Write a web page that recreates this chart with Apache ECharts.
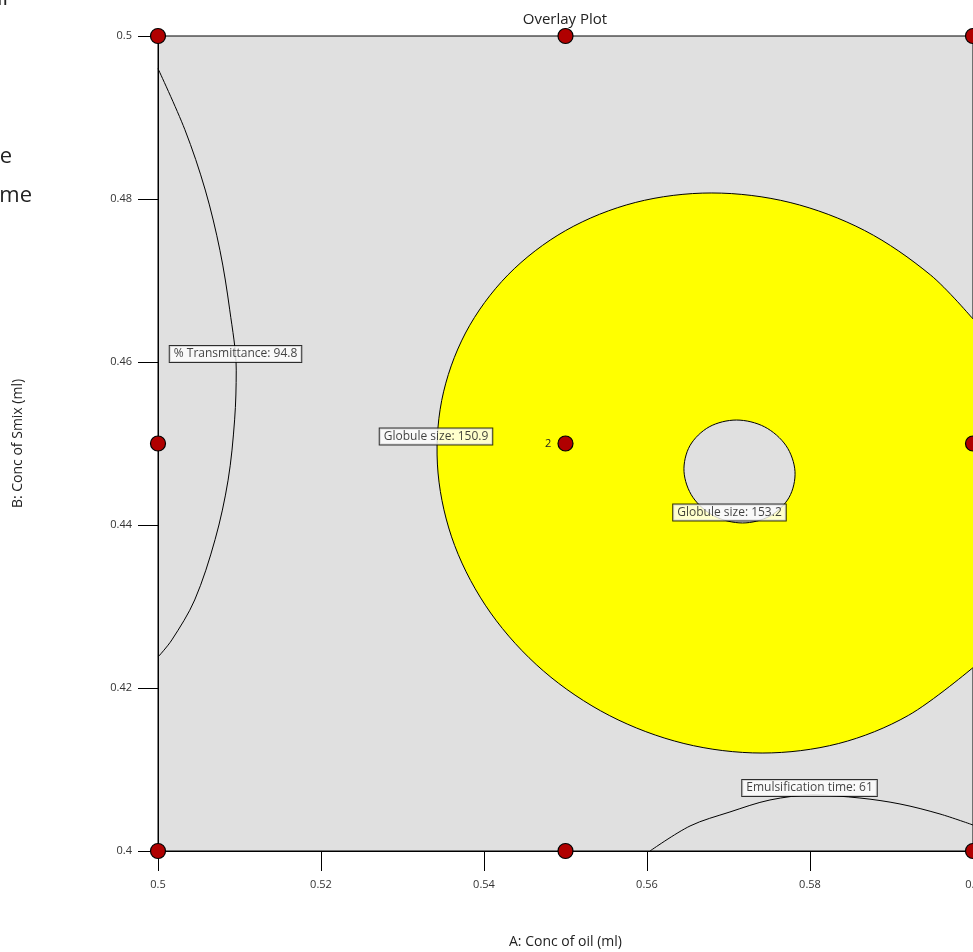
<!DOCTYPE html>
<html>
<head>
<meta charset="utf-8">
<script src="https://cdn.jsdelivr.net/npm/echarts@6/dist/echarts.min.js"></script>
<style>
  html, body { margin: 0; padding: 0; background: #fff; }
  #chart { width: 973px; height: 952px; }
</style>
</head>
<body>
<div id="chart"></div>
<script>
// Factor ranges (A: oil, B: Smix) and tick spacing
const rangeA = [0.5, 0.6];
const rangeB = [0.4, 0.5];
const tickStep = 0.02;

// Design points of the experiment
const designPoints = [
  [0.5, 0.5], [0.55, 0.5], [0.6, 0.5],
  [0.5, 0.45], [0.55, 0.45], [0.6, 0.45],
  [0.5, 0.4], [0.55, 0.4], [0.6, 0.4]
];
const centerPoint = [0.55, 0.45];
const centerReplicates = '2';

// Outer boundary of the feasible (yellow) region: Globule size 150.9 contour
const globuleOuter = [
  [0.6000, 0.46528], [0.59480, 0.47067], [0.58671, 0.47613], [0.57756, 0.47957],
  [0.56795, 0.48074], [0.55856, 0.47957], [0.55002, 0.47613], [0.54292, 0.47067],
  [0.53773, 0.46356], [0.53481, 0.45528], [0.53436, 0.44638], [0.53640, 0.43748],
  [0.54082, 0.42920], [0.54729, 0.42209], [0.55537, 0.41663], [0.56453, 0.41319],
  [0.57413, 0.41202], [0.58352, 0.41319], [0.59206, 0.41663], [0.6000, 0.42250]
];

// Inner excluded island: Globule size 153.2 contour
const globuleInner = [
  [0.57816, 0.44656], [0.57707, 0.44972], [0.57443, 0.45204], [0.57098, 0.45288],
  [0.56763, 0.45204], [0.56526, 0.44972], [0.56454, 0.44656], [0.56563, 0.44340],
  [0.56826, 0.44109], [0.57172, 0.44025], [0.57507, 0.44109], [0.57744, 0.44340]
];

// % Transmittance 94.8 contour
const transmittance = [
  [0.5000, 0.4960], [0.5033, 0.4885], [0.5058, 0.4811],
  [0.5076, 0.4737], [0.5088, 0.4664], [0.5096, 0.4590], [0.5094, 0.4529],
  [0.5086, 0.4455], [0.5070, 0.4382], [0.5045, 0.4308], [0.5017, 0.4259],
  [0.5000, 0.4238]
];

// Emulsification time 61 contour
const emulsification = [
  [0.56037, 0.4000], [0.56528, 0.40307], [0.57018, 0.40479], [0.57509, 0.40626],
  [0.58037, 0.40687], [0.58613, 0.40650], [0.59104, 0.40577], [0.59595, 0.40454],
  [0.6000, 0.40319]
];

// Contour labels and where they sit on their curves
const contourLabels = ['% Transmittance: 94.8', 'Globule size: 150.9', 'Globule size: 153.2', 'Emulsification time: 61'];
const contourLabelAt = [[0.50951, 0.46098], [0.53411, 0.45086], [0.57012, 0.44153], [0.57994, 0.40773]];

const FONT = '"Open Sans", "Noto Sans", sans-serif';
const SMOOTH = 0.33;
const chart = echarts.init(document.getElementById('chart'), null, { renderer: 'canvas' });

function regionRender(params, api) {
  const outer = globuleOuter.map(p => api.coord(p));
  const inner = globuleInner.map(p => api.coord(p));
  return {
    type: 'group',
    children: [
      // open contour: the fill closes along the plot's right edge, the stroke stays on the curve
      { type: 'polyline', shape: { points: outer, smooth: SMOOTH }, style: { fill: '#ffff00', stroke: '#000', lineWidth: 1 } },
      { type: 'polygon', shape: { points: inner, smooth: SMOOTH }, style: { fill: '#e0e0e0', stroke: '#000', lineWidth: 1 } }
    ]
  };
}

const option = {
  animation: false,
  backgroundColor: '#fff',
  textStyle: { fontFamily: FONT },
  grid: {
    left: 158, right: 0, top: 36, bottom: 101,
    containLabel: false, outerBoundsMode: 'none',
    show: true, backgroundColor: '#e0e0e0', borderColor: '#000', borderWidth: 1
  },
  graphic: [
    { type: 'text', x: 565, y: 20, silent: true,
      style: { text: 'Overlay Plot', font: '15px ' + FONT, fill: '#222', align: 'center', verticalAlign: 'middle' } },
    { type: 'text', x: 8, y: -1, silent: true,
      style: { text: 'A: Conc of oil', font: '22px ' + FONT, fill: '#222', align: 'right', verticalAlign: 'middle' } },
    { type: 'text', x: 12, y: 157, silent: true,
      style: { text: '% Transmittance', font: '22px ' + FONT, fill: '#222', align: 'right', verticalAlign: 'middle' } },
    { type: 'text', x: 32, y: 196, silent: true,
      style: { text: 'Emulsification time', font: '22px ' + FONT, fill: '#222', align: 'right', verticalAlign: 'middle' } }
  ],
  xAxis: {
    type: 'value', min: rangeA[0], max: rangeA[1], interval: tickStep,
    name: 'A: Conc of oil (ml)', nameLocation: 'middle', nameGap: 84,
    nameTextStyle: { fontSize: 14, color: '#222', fontFamily: FONT },
    axisLine: { show: true, lineStyle: { color: '#000', width: 1 } },
    axisTick: { show: true, length: 20, lineStyle: { color: '#000', width: 1 } },
    axisLabel: { fontSize: 11, color: '#333', margin: 28, showMaxLabel: true, showMinLabel: true, hideOverlap: false, fontFamily: FONT },
    splitLine: { show: false }
  },
  yAxis: {
    type: 'value', min: rangeB[0], max: rangeB[1], interval: tickStep,
    name: 'B: Conc of Smix (ml)', nameLocation: 'middle', nameGap: 133, nameRotate: 90,
    nameTextStyle: { fontSize: 14, color: '#222', fontFamily: FONT },
    axisLine: { show: true, lineStyle: { color: '#000', width: 1 } },
    axisTick: { show: true, length: 20, lineStyle: { color: '#000', width: 1 } },
    axisLabel: { fontSize: 11, color: '#333', margin: 26, showMaxLabel: true, showMinLabel: true, hideOverlap: false, fontFamily: FONT },
    splitLine: { show: false }
  },
  series: [
    {
      type: 'custom', name: 'Globule size region', clip: true, z: 1,
      data: [[0.55, 0.45]],
      renderItem: regionRender
    },
    {
      type: 'line', name: '% Transmittance', data: transmittance, smooth: SMOOTH,
      symbol: 'none', clip: true, z: 2,
      lineStyle: { color: '#000', width: 1 }
    },
    {
      type: 'line', name: 'Emulsification time', data: emulsification, smooth: SMOOTH,
      symbol: 'none', clip: true, z: 2,
      lineStyle: { color: '#000', width: 1 }
    },
    {
      type: 'scatter', name: 'Contour labels', z: 3, clip: false,
      symbol: 'circle', symbolSize: 1, itemStyle: { color: 'rgba(0,0,0,0)' },
      data: contourLabels.map((t, i) => ({ name: t, value: contourLabelAt[i] })),
      label: {
        show: true, position: 'inside', formatter: p => p.name,
        fontSize: 12, color: '#111', fontFamily: FONT,
        backgroundColor: '#fff', borderColor: '#000', borderWidth: 1,
        padding: [2, 4, 0, 4], lineHeight: 14
      }
    },
    {
      type: 'scatter', name: 'Design points', z: 10, clip: false,
      symbol: 'circle', symbolSize: 15,
      itemStyle: { color: '#b00000', borderColor: '#000', borderWidth: 1.2, opacity: 1 },
      data: designPoints.map(p => {
        const isCenter = p[0] === centerPoint[0] && p[1] === centerPoint[1];
        return isCenter
          ? { value: p, label: { show: true, formatter: centerReplicates, position: 'left', distance: 6,
              fontSize: 11, color: '#222', fontFamily: FONT } }
          : { value: p };
      })
    }
  ]
};

chart.setOption(option);
</script>
</body>
</html>
